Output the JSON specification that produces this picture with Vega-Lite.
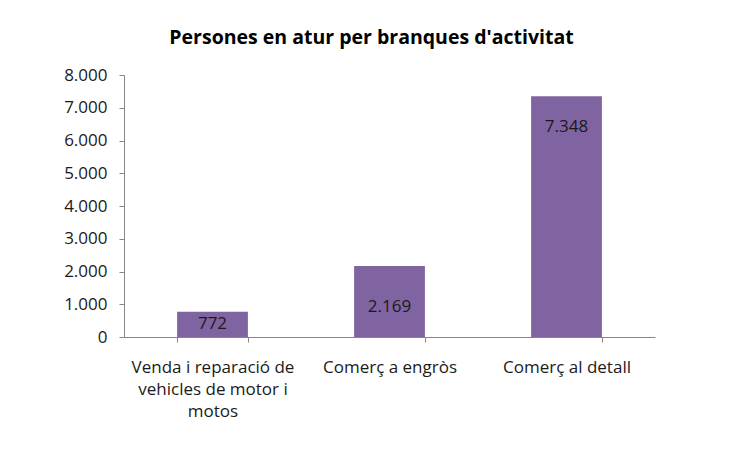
{
  "$schema": "https://vega.github.io/schema/vega-lite/v6.json",
  "autosize": {"type": "none"},
  "padding": {"left": 124, "top": 75, "right": 87, "bottom": 117},
  "width": 531,
  "height": 262,
  "background": "white",
  "title": {
    "text": "Persones en atur per branques d'activitat",
    "font": "Open Sans",
    "fontSize": 19.5,
    "fontWeight": "bold",
    "color": "#000000",
    "anchor": "middle",
    "baseline": "middle",
    "offset": 9,
    "dx": -18
  },
  "config": {
    "locale": {"number": {"decimal": ",", "thousands": ".", "grouping": [3], "currency": ["", " €"]}},
    "view": {"stroke": null}
  },
  "data": {
    "values": [
      {"branca": "Venda i reparació de vehicles de motor i motos", "persones": 772},
      {"branca": "Comerç a engròs", "persones": 2169},
      {"branca": "Comerç al detall", "persones": 7348}
    ]
  },
  "encoding": {
    "x": {
      "field": "branca",
      "type": "nominal",
      "sort": null,
      "scale": {"paddingInner": 0.6, "paddingOuter": 0.3},
      "axis": {
        "title": null,
        "labelAngle": 0,
        "labelFont": "Open Sans",
        "labelFontSize": 17,
        "labelColor": "#1a1a1a",
        "labelLineHeight": 22,
        "labelBaseline": "top",
        "labelPadding": 17,
        "labelExpr": "datum.value == 'Venda i reparació de vehicles de motor i motos' ? ['Venda i reparació de', 'vehicles de motor i', 'motos'] : datum.value",
        "domainColor": "#868686",
        "tickColor": "#868686",
        "tickSize": 5,
        "tickBand": "extent",
        "grid": false
      }
    },
    "y": {
      "field": "persones",
      "type": "quantitative",
      "scale": {"domain": [0, 8000]},
      "axis": {
        "title": null,
        "values": [0, 1000, 2000, 3000, 4000, 5000, 6000, 7000, 8000],
        "format": ",d",
        "labelFont": "Open Sans",
        "labelFontSize": 17,
        "labelColor": "#1a1a1a",
        "labelPadding": 12,
        "domainColor": "#868686",
        "tickColor": "#868686",
        "tickSize": 5,
        "grid": false
      }
    }
  },
  "layer": [
    {"mark": {"type": "bar", "color": "#8064A2"}},
    {
      "transform": [{"filter": "datum.persones < 1000"}],
      "mark": {"type": "text", "font": "Open Sans", "fontSize": 17, "color": "#1a1a1a", "baseline": "middle", "dy": 12},
      "encoding": {"text": {"field": "persones", "type": "quantitative", "format": ",d"}}
    },
    {
      "transform": [{"filter": "datum.persones >= 1000 && datum.persones < 3000"}],
      "mark": {"type": "text", "font": "Open Sans", "fontSize": 17, "color": "#1a1a1a", "baseline": "middle", "dy": 41},
      "encoding": {"text": {"field": "persones", "type": "quantitative", "format": ",d"}}
    },
    {
      "transform": [{"filter": "datum.persones >= 3000"}],
      "mark": {"type": "text", "font": "Open Sans", "fontSize": 17, "color": "#1a1a1a", "baseline": "middle", "dy": 31},
      "encoding": {"text": {"field": "persones", "type": "quantitative", "format": ",d"}}
    }
  ]
}
